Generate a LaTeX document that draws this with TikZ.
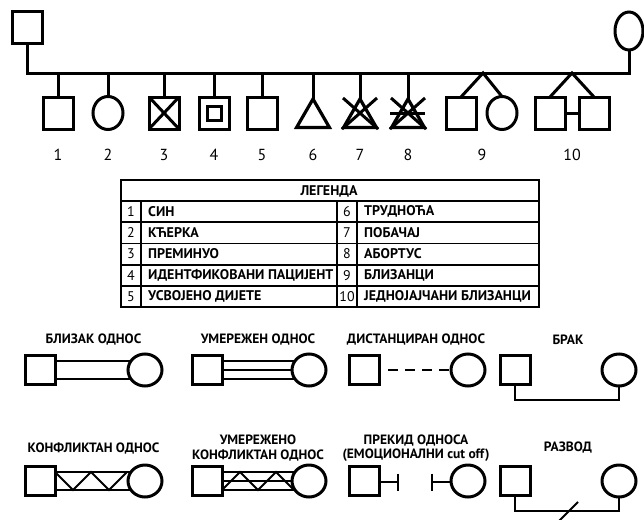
\documentclass[tikz,border=0pt]{standalone}
\usepackage{fontspec}
\setmainfont{PT Sans}
\usetikzlibrary{shapes.geometric,backgrounds,calc}

\begin{document}
\begin{tikzpicture}[x=1pt,y=-1pt,
  male/.style={draw,line width=3pt,fill=white,outer sep=0pt,inner sep=0pt,minimum width=30pt,minimum height=32pt},
  female/.style={ellipse,draw,line width=3pt,fill=white,outer sep=0pt,inner sep=0pt,minimum width=30pt,minimum height=33pt},
  pregnancy/.style={regular polygon,regular polygon sides=3,draw,line width=3.2pt,outer sep=0pt,inner sep=0pt,minimum size=38pt},
  tree/.style={line width=3pt},
  cross/.style={line width=3pt},
  num/.style={font=\fontsize{16}{17}\selectfont},
  legtext/.style={font=\bfseries\fontsize{14}{15}\selectfont,anchor=west,inner sep=0pt},
  legnum/.style={font=\fontsize{14}{15}\selectfont,inner sep=0pt},
  rellabel/.style={font=\bfseries\fontsize{13.5}{14.5}\selectfont,align=center,inner sep=0pt},
  relmale/.style={male,minimum width=30pt,minimum height=29pt},
  relfemale/.style={female,minimum width=34pt,minimum height=32pt},
  tie/.style={line width=2pt},
  grid/.style={line width=1.8pt}
]
\useasboundingbox (0,0) rectangle (644,519);

% Parents and sibling line
\node[male] (father) at (27,28) {};
\node[female,minimum width=28pt,minimum height=38pt] (mother) at (629,31) {};
\coordinate (sibs) at (0,73);
\draw[tree] (father.south) -- (father.south |- sibs) -| (mother.south);

% Children
\node[male] (son) at (58,113) {};
\node[female] (daughter) at (108,113) {};
\node[male] (deceased) at (164,113) {};
\node[male] (patient) at (214,113) {};
\node[male,minimum width=14pt,minimum height=14pt] (patientin) at (214,113) {};
\node[male] (adopted) at (262,113) {};
\node[pregnancy] (pregnant) at (313,118) {};
\node[pregnancy] (miscarriage) at (360,118) {};
\node[pregnancy] (abortion) at (408,118) {};
\node[male] (twinA) at (461,113) {};
\node[female] (twinB) at (502,113) {};
\node[male] (idtwinA) at (550,113) {};
\node[male] (idtwinB) at (594,113) {};

\foreach \c in {son,daughter,deceased,patient,adopted,pregnant,miscarriage,abortion}
  \draw[tree] (\c.north |- sibs) -- (\c.north);

\coordinate (twins) at (483,73);
\coordinate (idtwins) at (572,73);
\draw[tree] (twinA.north) -- (twins) -- (twinB.north);
\draw[tree] (idtwinA.north) -- (idtwins) -- (idtwinB.north);
\draw[tree] (idtwinA.east) -- (idtwinB.west);

% Crossings
\draw[cross] (deceased.north west) -- (deceased.south east)
  (deceased.north east) -- (deceased.south west);
\foreach \c in {miscarriage,abortion}
  \draw[cross] ($(\c.center)+(-17,-20)$) -- ($(\c.center)+(18,11)$)
    ($(\c.center)+(17,-20)$) -- ($(\c.center)+(-18,11)$);
\draw[cross] ($(abortion.center)+(-18,-5)$) -- ($(abortion.center)+(17,-5)$);

% Numbers
\foreach \lbl/\xx in {1/58,2/108,3/164,4/214,5/262,6/313,7/360,8/408,9/482,10/572}
  \node[num] (n\lbl) at (\xx,155) {\lbl};

% Legend
\draw[grid] (121,180) rectangle (539,307);
\foreach \yy in {201,222.2,243.4,264.6,285.8}
  \draw[grid] (121,\yy) -- (539,\yy);
\foreach \xx in {141,337,357}
  \draw[grid] (\xx,201) -- (\xx,307);
\node[legtext,anchor=center] (legend) at (329,191) {ЛЕГЕНДА};
\foreach \a/\ta/\b/\tb [count=\i] in {1/СИН/6/ТРУДНОЋА,2/КЋЕРКА/7/ПОБАЧАЈ,3/ПРЕМИНУО/8/АБОРТУС,4/ИДЕНТФИКОВАНИ ПАЦИЈЕНТ/9/БЛИЗАНЦИ,5/УСВОЈЕНО ДИЈЕТЕ/10/ЈЕДНОЈАЈЧАНИ БЛИЗАНЦИ} {
  \node[legnum] (ka\i) at (131,190.4+21.2*\i) {\a};
  \node[legtext] (ta\i) at (148,190.4+21.2*\i) {\ta};
  \node[legnum] (kb\i) at (347,190.4+21.2*\i) {\b};
  \node[legtext] (tb\i) at (364,190.4+21.2*\i) {\tb};
}

% Relationships, first row
\node[rellabel] (closelbl) at (93.5,340) {БЛИЗАК ОДНОС};
\node[rellabel] (enmlbl) at (258,340) {УМЕРЕЖЕН ОДНОС};
\node[rellabel] (distlbl) at (416,340) {ДИСТАНЦИРАН ОДНОС};
\node[rellabel] (marlbl) at (568,340) {БРАК};

\node[relmale] (closeM) at (40,370) {};
\node[relfemale] (closeF) at (145,370) {};
\node[relmale] (enmM) at (207,370) {};
\node[relfemale] (enmF) at (309,370) {};
\node[relmale] (distM) at (364,370) {};
\node[relfemale] (distF) at (468,370) {};
\node[relmale] (marM) at (515,370) {};
\node[relfemale] (marF) at (619,370) {};

% Relationships, second row
\node[rellabel] (conflbl) at (93.5,448) {КОНФЛИКТАН ОДНОС};
\node[rellabel] (enmconflbl) at (258,448) {УМЕРЕЖЕНО\\КОНФЛИКТАН ОДНОС};
\node[rellabel] (cutlbl) at (416,448) {ПРЕКИД ОДНОСА\\(ЕМОЦИОНАЛНИ cut off)};
\node[rellabel] (divlbl) at (568,448) {РАЗВОД};

\node[relmale] (confM) at (40,481) {};
\node[relfemale] (confF) at (145,481) {};
\node[relmale] (enmconfM) at (207,481) {};
\node[relfemale] (enmconfF) at (309,481) {};
\node[relmale] (cutM) at (364,481) {};
\node[relfemale] (cutF) at (468,481) {};
\node[relmale] (divM) at (515,481) {};
\node[relfemale] (divF) at (619,481) {};

\begin{scope}[on background layer]
\foreach \d in {-9,9}
  \draw[tie] ([shift={(0,\d)}]closeM.center) -- ([shift={(0,\d)}]closeF.center);
\foreach \d in {-9,0,9}
  \draw[tie] ([shift={(0,\d)}]enmM.center) -- ([shift={(0,\d)}]enmF.center);
\foreach \d in {-9,9}
  \draw[tie] ([shift={(0,\d)}]confM.center) -- ([shift={(0,\d)}]confF.center);
\draw[tie] ([shift={(15,-9)}]confM.center) -- ++(18,18) -- ++(18,-18) -- ++(18,18) -- ++(18,-18);
\foreach \d in {-9,0,9}
  \draw[tie] ([shift={(0,\d)}]enmconfM.center) -- ([shift={(0,\d)}]enmconfF.center);
\draw[tie] ([shift={(15,9)}]enmconfM.center) -- ++(18,-18) -- ++(18,18) -- ++(18,-18) -- ++(18,18);
\end{scope}

\draw[tie,dash pattern=on 10pt off 7pt,dash phase=8pt] (distM.east) -- (distF.west);
\draw[tie] (marM.south) -- ++(0,15) -| (marF.south);

\coordinate (cutMbar) at (398,482);
\coordinate (cutFbar) at (432,482);
\draw[tie] (cutM.east |- cutMbar) -- (cutMbar);
\draw[tie] ([shift={(0,-8.5)}]cutMbar) -- ([shift={(0,8.5)}]cutMbar);
\draw[tie] (cutF.west |- cutFbar) -- (cutFbar);
\draw[tie] ([shift={(0,-8.5)}]cutFbar) -- ([shift={(0,8.5)}]cutFbar);

\draw[tie] (divM.south) -- ++(0,15) coordinate (divline) -| (divF.south);
\coordinate (divcut) at (569,511);
\draw[tie] ([shift={(-10,10)}]divcut) -- ([shift={(9,-9)}]divcut);
\end{tikzpicture}
\end{document}
